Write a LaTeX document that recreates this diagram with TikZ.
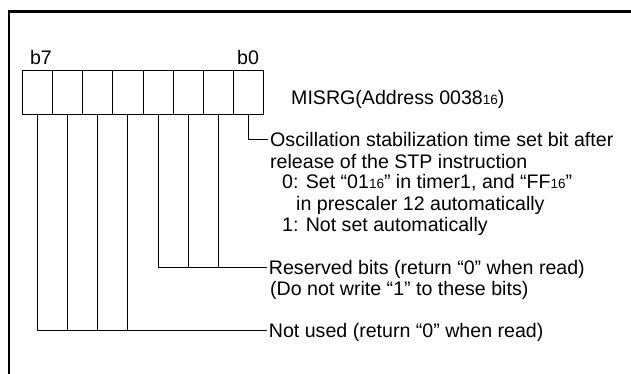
\documentclass[tikz,border=0pt]{standalone}
\usepackage{fontspec}
\setmainfont{Liberation Sans}
\newcommand\hexsub[1]{{\fontsize{13.5}{13.5}\selectfont #1}}

\begin{document}
\begin{tikzpicture}[x=1pt,y=-1pt,
  bitcell/.style={draw,line width=1pt,minimum width=30.08pt,minimum height=43.6pt,inner sep=0pt},
  lbl/.style={font=\fontsize{19.6}{21}\selectfont,inner sep=2pt,text height=14pt,text depth=0pt},
  wire/.style={line width=1pt}]
\useasboundingbox (0,0) rectangle (631,374);
\draw[line width=2.5pt] (9,374) -- (9,11.3) -- (631,11.3);

% register cells, b7 on the left
\foreach \i in {0,...,7}
  \node[bitcell] (c\i) at ({22.7+30.08*(7-\i+0.5)},92.5) {};

\node[lbl,anchor=base] (lb7) at (41,65) {b7};
\node[lbl,anchor=base] (lb0) at (248,65) {b0};

\node[lbl,anchor=base west] (misrg) at (289,105) {MISRG(Address 0038\hexsub{16})};

\node[lbl,anchor=base west] (osc) at (268,147) {Oscillation stabilization time set bit after};
\node[lbl,anchor=base west] (rel) at (268,168) {release of the STP instruction};
\node[lbl,anchor=base west] (set0) at (280,189) {0: Set “01\hexsub{16}” in timer1, and “FF\hexsub{16}”};
\node[lbl,anchor=base west] (pre) at (294,210) {in prescaler 12 automatically};
\node[lbl,anchor=base west] (set1) at (280,231) {1: Not set automatically};

\node[lbl,anchor=base west] (rsv) at (266.7,274) {Reserved bits (return “0” when read)};
\node[lbl,anchor=base west] (dnw) at (268,295) {(Do not write “1” to these bits)};

\node[lbl,anchor=base west] (nu) at (266.7,337) {Not used (return “0” when read)};

% connectors
\draw[wire] (c0.south) |- (osc.west);

\draw[wire] (c3.south) |- (rsv.west);
\foreach \i in {2,1}
  \draw[wire] (c\i.south) -- (c\i.south |- rsv.west);

\draw[wire] (c7.south) |- (nu.west);
\foreach \i in {6,5,4}
  \draw[wire] (c\i.south) -- (c\i.south |- nu.west);
\end{tikzpicture}
\end{document}
